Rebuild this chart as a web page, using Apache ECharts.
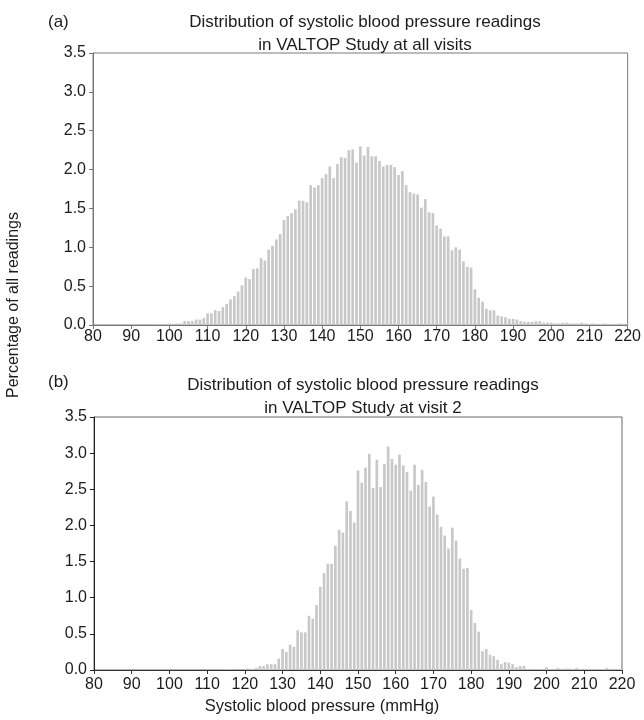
<!DOCTYPE html>
<html>
<head>
<meta charset="utf-8">
<script src="https://cdn.jsdelivr.net/npm/echarts@6/dist/echarts.min.js"></script>
<style>
html,body{margin:0;padding:0;background:#fff;}
#c{width:644px;height:720px;}
</style>
</head>
<body>
<div id="c"></div>
<script>
// Systolic blood pressure (mmHg), one bar per mmHg
const sbp = [80,81,82,83,84,85,86,87,88,89,90,91,92,93,94,95,96,97,98,99,
100,101,102,103,104,105,106,107,108,109,110,111,112,113,114,115,116,117,118,119,
120,121,122,123,124,125,126,127,128,129,130,131,132,133,134,135,136,137,138,139,
140,141,142,143,144,145,146,147,148,149,150,151,152,153,154,155,156,157,158,159,
160,161,162,163,164,165,166,167,168,169,170,171,172,173,174,175,176,177,178,179,
180,181,182,183,184,185,186,187,188,189,190,191,192,193,194,195,196,197,198,199,
200,201,202,203,204,205,206,207,208,209,210,211,212,213,214,215,216,217,218,219,220];

// (a) percentage of all readings, all visits
const allVisits = [
0,0,0,0,0,0,0,0,0,0,
0,0,0,0,0,0,0.01,0.01,0.01,0.01,
0.02,0.01,0.02,0.02,0.05,0.05,0.05,0.07,0.07,0.09,
0.15,0.15,0.19,0.18,0.23,0.27,0.33,0.37,0.43,0.51,
0.61,0.59,0.72,0.73,0.86,0.83,0.97,1.02,1.10,1.17,
1.35,1.40,1.44,1.49,1.60,1.60,1.58,1.80,1.77,1.80,
1.89,1.94,2.04,1.89,2.07,2.16,2.15,2.25,2.26,2.09,
2.30,2.18,2.29,2.17,2.17,2.11,2.04,2.06,2.06,2.03,
1.93,1.98,1.80,1.71,1.69,1.68,1.51,1.62,1.45,1.44,
1.28,1.24,1.14,1.14,0.96,1.00,0.97,0.82,0.75,0.74,
0.46,0.35,0.30,0.21,0.19,0.19,0.12,0.11,0.10,0.08,
0.08,0.07,0.05,0.04,0.04,0.04,0.05,0.05,0.03,0.03,
0.03,0.02,0.02,0.03,0.03,0.02,0.02,0.02,0.03,0.02,
0.01,0.02,0.01,0.01,0.02,0.01,0.01,0.01,0.02,0.01,0.01];

// (b) percentage of all readings, visit 2
const visit2 = [
0,0,0,0,0,0,0,0,0,0,
0,0,0,0,0,0,0,0,0,0,
0,0,0,0,0,0,0,0,0,0,
0,0,0,0,0,0.01,0.01,0,0,0,
0.01,0.02,0.015,0.03,0.055,0.055,0.08,0.08,0.08,0.16,
0.29,0.25,0.35,0.32,0.55,0.52,0.52,0.75,0.71,0.90,
1.15,1.34,1.47,1.47,1.72,1.94,1.90,2.33,2.20,2.04,
2.76,2.59,2.80,2.99,2.52,2.91,2.53,2.85,3.09,2.92,
2.84,2.98,2.83,2.74,2.48,2.84,2.56,2.77,2.60,2.26,
2.40,2.15,1.98,1.86,1.68,1.97,1.79,1.54,1.40,1.41,
0.83,0.65,0.53,0.26,0.29,0.21,0.19,0.14,0.08,0.11,
0.10,0.08,0.04,0.055,0.055,0.015,0.015,0.015,0.015,0.015,
0.04,0.015,0.015,0.03,0.015,0.02,0.02,0.015,0.03,0.015,
0.015,0.015,0.015,0.015,0.015,0.015,0.03,0.015,0.015,0.015,0.015];

const xTicks = [80,90,100,110,120,130,140,150,160,170,180,190,200,210,220];
const yTicks = ['0.0','0.5','1.0','1.5','2.0','2.5','3.0','3.5'];

const titleA = ['Distribution of systolic blood pressure readings', 'in VALTOP Study at all visits'];
const titleB = ['Distribution of systolic blood pressure readings', 'in VALTOP Study at visit 2'];

const FONT = '"Liberation Sans", Arial, Helvetica, sans-serif';
const TXT = '#1c1c1c';

function pairs(vals){ return sbp.map((x,i)=>[x, vals[i]]); }

function xAxisCfg(gi, axisColor, margin){
  return {
    type:'value', gridIndex:gi, min:xTicks[0], max:xTicks[xTicks.length-1], interval:10,
    axisLine:{show:true, onZero:false, lineStyle:{color:axisColor, width:1}},
    axisTick:{show:true, length:4, lineStyle:{color:axisColor}},
    axisLabel:{color:TXT, fontSize:16, fontFamily:FONT, margin:margin},
    splitLine:{show:false}
  };
}
function yAxisCfg(gi, axisColor){
  return {
    type:'value', gridIndex:gi, min:0, max:3.5, interval:0.5,
    axisLine:{show:true, lineStyle:{color:axisColor, width:1}},
    axisTick:{show:true, length:4, lineStyle:{color:axisColor}},
    axisLabel:{color:TXT, fontSize:16, fontFamily:FONT, margin:7,
      formatter:(v)=>yTicks[Math.round(v/0.5)]},
    splitLine:{show:false}
  };
}

const chart = echarts.init(document.getElementById('c'), null, {renderer:'canvas'});
chart.setOption({
  backgroundColor:'#fff',
  animation:false,
  title:[
    {text:titleA.join('\n'), left:360, top:6, textAlign:'center',
     textStyle:{fontSize:17, fontWeight:'normal', color:TXT, fontFamily:FONT, lineHeight:23}},
    {text:titleB.join('\n'), left:358, top:369, textAlign:'center',
     textStyle:{fontSize:17, fontWeight:'normal', color:TXT, fontFamily:FONT, lineHeight:23}},
    {text:'(a)', left:43, top:9, textStyle:{fontSize:17, fontWeight:'normal', color:TXT, fontFamily:FONT}},
    {text:'(b)', left:43, top:369, textStyle:{fontSize:17, fontWeight:'normal', color:TXT, fontFamily:FONT}}
  ],
  graphic:[
    {type:'text', x:14, y:305, rotation:Math.PI/2,
     style:{text:'Percentage of all readings', fill:TXT, font:'16px ' + FONT,
            textAlign:'center', textVerticalAlign:'middle'}},
    {type:'text', left:'center', top:698,
     style:{text:'Systolic blood pressure (mmHg)', fill:TXT, font:'16.5px ' + FONT}}
  ],
  grid:[
    {left:93, top:53, width:535, height:272, show:true, borderColor:'#7a7a7a', borderWidth:1, backgroundColor:'transparent'},
    {left:94, top:417, width:528, height:253, show:true, borderColor:'#6a6a6a', borderWidth:1, backgroundColor:'transparent'}
  ],
  xAxis:[ xAxisCfg(0,'#777',4), xAxisCfg(1,'#333',7) ],
  yAxis:[ yAxisCfg(0,'#777'), yAxisCfg(1,'#222') ],
  series:[
    {type:'bar', xAxisIndex:0, yAxisIndex:0, data:pairs(allVisits), barWidth:2.7,
     itemStyle:{color:'#c8c8c8'}, silent:true},
    {type:'bar', xAxisIndex:1, yAxisIndex:1, data:pairs(visit2), barWidth:2.65,
     itemStyle:{color:'#c8c8c8'}, silent:true}
  ]
});
</script>
</body>
</html>
